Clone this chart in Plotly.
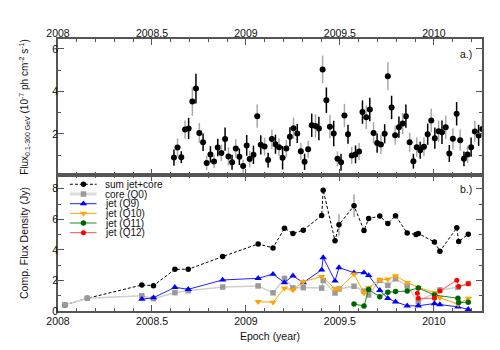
import plotly.graph_objects as go
from plotly.subplots import make_subplots

# ---- panel a: weekly gamma-ray flux (10^-7 ph cm^-2 s^-1)
lat_epoch = [2008.617, 2008.636, 2008.656, 2008.676, 2008.695, 2008.715, 2008.734, 2008.752,
             2008.772, 2008.791, 2008.811, 2008.830, 2008.850, 2008.869, 2008.889, 2008.907,
             2008.926, 2008.946, 2008.965, 2008.985, 2009.004, 2009.020, 2009.040, 2009.060,
             2009.079, 2009.099, 2009.118, 2009.138, 2009.157, 2009.176, 2009.195, 2009.215,
             2009.234, 2009.253, 2009.273, 2009.292, 2009.312, 2009.331, 2009.350, 2009.370,
             2009.388, 2009.408, 2009.428, 2009.447, 2009.467, 2009.487, 2009.506, 2009.524,
             2009.543, 2009.563, 2009.583, 2009.602, 2009.620, 2009.640, 2009.659, 2009.679,
             2009.698, 2009.718, 2009.738, 2009.755, 2009.775, 2009.794, 2009.814, 2009.834,
             2009.851, 2009.871, 2009.891, 2009.909, 2009.927, 2009.947, 2009.967, 2009.986,
             2010.005, 2010.025, 2010.043, 2010.063, 2010.082, 2010.101, 2010.121, 2010.140,
             2010.160, 2010.179, 2010.198, 2010.218, 2010.238, 2010.258]
lat_flux = [0.89, 1.36, 0.91, 2.21, 2.26, 3.53, 4.14, 2.05, 1.61, 0.64, 1.04, 0.71, 1.36, 1.11,
            1.76, 0.94, 0.67, 1.32, 0.93, 0.49, 1.46, 0.82, 1.02, 2.84, 1.49, 1.41, 0.77, 1.76,
            1.52, 1.38, 0.88, 1.32, 1.87, 2.27, 2.02, 1.19, 0.69, 1.28, 2.41, 2.38, 2.26, 5.04,
            3.59, 2.34, 2.02, 0.83, 0.67, 2.87, 1.99, 0.99, 1.04, 1.18, 3.03, 2.79, 3.15, 2.05,
            1.57, 1.51, 2.01, 4.72, 3.25, 1.94, 2.32, 2.49, 2.84, 1.61, 0.72, 1.38, 1.24, 1.40,
            1.99, 2.64, 1.80, 2.13, 2.08, 2.32, 1.08, 1.77, 2.95, 1.71, 0.83, 1.04, 1.38, 2.12,
            1.93, 2.23]
lat_err = [0.38, 0.43, 0.28, 0.43, 0.50, 0.67, 0.70, 0.47, 0.41, 0.33, 0.39, 0.31, 0.41, 0.39,
           0.55, 0.43, 0.35, 0.43, 0.39, 0.31, 0.49, 0.39, 0.43, 0.55, 0.45, 0.42, 0.35, 0.45,
           0.45, 0.42, 0.55, 0.40, 0.45, 0.50, 0.45, 0.40, 0.38, 0.40, 0.55, 0.55, 0.55, 0.65,
           0.60, 0.55, 0.60, 0.35, 0.40, 0.55, 0.45, 0.40, 0.42, 0.40, 0.55, 0.55, 0.55, 0.50,
           0.45, 0.45, 0.45, 0.65, 0.55, 0.45, 0.50, 0.50, 0.55, 0.45, 0.35, 0.45, 0.40, 0.45,
           0.50, 0.55, 0.50, 0.50, 0.55, 0.55, 0.40, 0.50, 0.55, 0.50, 0.35, 0.40, 0.45, 0.50,
           0.50, 0.50]

# ---- panel b: component flux densities (Jy)
sum_x = [2008.037, 2008.156, 2008.446, 2008.508, 2008.622, 2008.693, 2008.876, 2009.065,
         2009.144, 2009.205, 2009.250, 2009.305, 2009.403, 2009.411, 2009.474, 2009.495,
         2009.575, 2009.628, 2009.653, 2009.712, 2009.755, 2009.796, 2009.858, 2009.905,
         2009.917, 2010.003, 2010.032, 2010.122, 2010.132, 2010.183]
sum_y = [0.40, 0.83, 1.70, 1.66, 2.73, 2.73, 3.56, 4.39, 4.13, 5.42, 5.07, 5.29, 6.25, 7.91,
         4.59, 5.64, 6.89, 5.27, 6.05, 6.21, 5.72, 6.23, 5.11, 5.00, 5.07, 4.52, 3.91, 5.44,
         4.55, 5.03]
sum_err = [0, 0, 0, 0, 0, 0, 0, 0, 0, 0, 0, 0, 0, 0, 0, 0.7, 0.75, 0, 0, 0, 0, 0, 0, 0, 0,
           0, 0, 0, 0, 0]

core_x = [2008.037, 2008.156, 2008.446, 2008.508, 2008.622, 2008.693, 2008.876, 2009.065,
          2009.144, 2009.205, 2009.250, 2009.305, 2009.403, 2009.411, 2009.474, 2009.495,
          2009.575, 2009.628, 2009.653, 2009.712, 2009.755, 2009.796, 2009.858, 2009.917,
          2010.032, 2010.128, 2010.183]
core_y = [0.40, 0.83, 1.00, 0.81, 1.20, 1.33, 1.57, 1.64, 1.19, 2.13, 1.51, 1.53, 1.50, 2.00,
          1.18, 1.44, 1.62, 1.30, 1.05, 2.00, 1.68, 2.11, 1.64, 0.61, 1.38, 1.55, 1.80]

q9_x = [2008.446, 2008.508, 2008.622, 2008.693, 2008.876, 2009.065, 2009.144, 2009.205,
        2009.250, 2009.305, 2009.403, 2009.411, 2009.474, 2009.495, 2009.575, 2009.628,
        2009.653, 2009.712, 2009.755, 2009.796, 2009.858, 2009.917, 2010.003, 2010.032,
        2010.128, 2010.183]
q9_y = [0.77, 0.87, 1.55, 1.42, 2.03, 2.14, 2.41, 1.86, 2.30, 1.86, 2.69, 3.50, 1.97, 2.84,
        2.51, 2.51, 2.33, 1.35, 0.83, 0.60, 0.34, 0.34, 0.49, 0.42, 0.27, 0.11]

q10_x = [2009.065, 2009.144, 2009.205, 2009.250, 2009.305, 2009.403, 2009.474, 2009.495,
         2009.575, 2009.628, 2009.653, 2009.712, 2009.755, 2009.796, 2009.858, 2009.917,
         2010.003, 2010.032, 2010.128, 2010.183]
q10_y = [0.61, 0.57, 1.49, 1.38, 1.92, 2.25, 1.47, 1.44, 2.41, 1.18, 1.53, 2.03, 2.08, 2.30,
         1.86, 1.55, 1.20, 0.87, 0.44, 0.83]

q11_x = [2009.575, 2009.628, 2009.653, 2009.712, 2009.755, 2009.796, 2009.858, 2009.917,
         2010.003, 2010.128, 2010.132, 2010.183]
q11_y = [0.46, 0.33, 1.40, 0.94, 1.23, 1.27, 1.31, 1.51, 1.05, 0.83, 0.55, 0.58]

q12_x = [2009.912, 2009.917, 2010.003, 2010.032, 2010.122, 2010.132, 2010.183]
q12_y = [1.16, 0.83, 0.83, 1.31, 2.02, 1.60, 1.78]

x_ticks = [2008, 2008.5, 2009, 2009.5, 2010]
x_labels = ["2008", "2008.5", "2009", "2009.5", "2010"]

FONT = "Liberation Sans"
FRAME = "#555555"
TXT = dict(size=10.5, family=FONT, color="#111")

fig = make_subplots(rows=2, cols=1, shared_xaxes=True, vertical_spacing=0)

# panel a -- alternate black/grey error bars
for sl, ecol in [(slice(0, None, 2), "black"), (slice(1, None, 2), "#a8a8a8")]:
    fig.add_trace(go.Scatter(
        x=lat_epoch[sl], y=lat_flux[sl], mode="markers",
        marker=dict(color="black", size=6),
        error_y=dict(type="data", array=lat_err[sl], color=ecol, thickness=1.5, width=0),
        showlegend=False), row=1, col=1)

# panel b
series = [
    ("sum jet+core", sum_x, sum_y, dict(color="black", width=1, dash="3px,2px"),
     dict(color="black", size=5.5, symbol="circle")),
    ("core (Q0)", core_x, core_y, dict(color="#cfcfcf", width=1.5),
     dict(color="#9a9a9a", size=5.5, symbol="square")),
    ("jet (Q9)", q9_x, q9_y, dict(color="#2020ff", width=1),
     dict(color="#0000ff", size=6.5, symbol="triangle-up")),
    ("jet (Q10)", q10_x, q10_y, dict(color="#ffa500", width=1),
     dict(color="#ffa500", size=6.5, symbol="triangle-down")),
    ("jet (Q11)", q11_x, q11_y, dict(color="#228b22", width=1),
     dict(color="#006400", size=5.5, symbol="circle")),
    ("jet (Q12)", q12_x, q12_y, dict(color="#ff5050", width=1),
     dict(color="#ff0000", size=5, symbol="circle")),
]
for i, (name, xs, ys, line, marker) in enumerate(series):
    tr = go.Scatter(x=xs, y=ys, mode="lines+markers", name=name, line=line,
                    marker=marker, showlegend=False)
    if i == 0:
        tr.error_y = dict(type="data", array=sum_err, color="#555555", thickness=0.8, width=0)
    fig.add_trace(tr, row=2, col=1)

# hand-made legend on an invisible overlay axis (unit square over panel b)
leg_y = [0.932, 0.860, 0.789, 0.718, 0.647, 0.576]
for (name, xs, ys, line, marker), ly in zip(series, leg_y):
    lline = dict(line)
    if name == "core (Q0)":
        lline["width"] = 3
        lline["color"] = "#dddddd"
    fig.add_trace(go.Scatter(x=[0.028, 0.091], y=[ly, ly], mode="lines", line=lline,
                             xaxis="x3", yaxis="y3", showlegend=False, hoverinfo="skip"))
    fig.add_trace(go.Scatter(x=[0.060], y=[ly], mode="markers", marker=marker,
                             xaxis="x3", yaxis="y3", showlegend=False, hoverinfo="skip"))
    fig.add_annotation(x=0.107, y=ly, xref="x3", yref="y3", text=name, showarrow=False,
                       xanchor="left", yanchor="middle", font=dict(size=10, family=FONT, color="#111"))

axis_common = dict(showline=True, linecolor=FRAME, linewidth=1.5, mirror="ticks",
                   ticks="inside", ticklen=6, tickcolor=FRAME, tickwidth=1,
                   showgrid=False, zeroline=False, tickfont=TXT, automargin=False)

fig.update_xaxes(**axis_common, range=[2008, 2010.256], tickvals=x_ticks, ticktext=x_labels,
                 minor=dict(ticks="inside", ticklen=3, dtick=0.1, tick0=2008, tickcolor=FRAME))
fig.update_xaxes(side="top", showticklabels=True, ticklabelstandoff=-4, row=1, col=1)
fig.update_xaxes(title=dict(text="Epoch (year)", font=TXT, standoff=6), row=2, col=1)

fig.update_yaxes(**axis_common, ticklabelstandoff=-4)
fig.update_yaxes(range=[0.07, 6.47], tickvals=[2, 4, 6],
                 minor=dict(ticks="inside", ticklen=3, tickvals=[1, 3, 5], tickcolor=FRAME),
                 title=dict(text="Flux<sub>0.1-300 GeV</sub> (10<sup>-7</sup> ph cm<sup>-2</sup> s<sup>-1</sup>)",
                            font=dict(size=10, family=FONT, color="#111"), standoff=22),
                 row=1, col=1)
fig.update_yaxes(range=[0, 8.9], tickvals=[0, 2, 4, 6, 8],
                 minor=dict(ticks="inside", ticklen=3, tickvals=[1, 3, 5, 7], tickcolor=FRAME),
                 title=dict(text="Comp. Flux Density (Jy)", font=TXT, standoff=22),
                 row=2, col=1)

fig.update_layout(
    xaxis3=dict(overlaying="x2", range=[0, 1], visible=False),
    yaxis3=dict(overlaying="y2", range=[0, 1], visible=False),
)

fig.add_annotation(x=0.982, y=0.945, xref="paper", yref="paper", text="a.)", showarrow=False,
                   xanchor="right", yanchor="middle", font=TXT)
fig.add_annotation(x=0.982, y=0.449, xref="paper", yref="paper", text="b.)", showarrow=False,
                   xanchor="right", yanchor="middle", font=TXT)

# page body has an 8px default margin, so the figure is a little smaller than the window
fig.update_layout(width=492, height=342, margin=dict(l=50, r=18, t=31, b=39),
                  paper_bgcolor="white", plot_bgcolor="white",
                  font=dict(family=FONT, size=10.5, color="#111"), showlegend=False)

fig.write_html("out.html")
